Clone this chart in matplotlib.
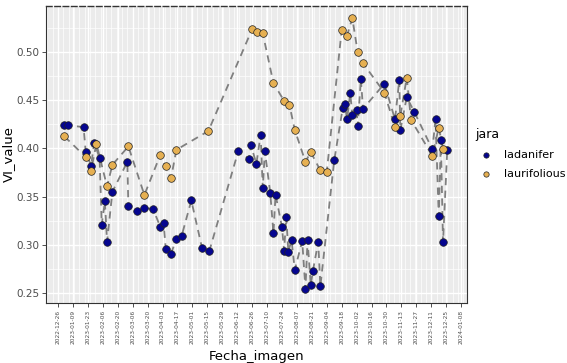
import matplotlib
matplotlib.use("Agg")
import matplotlib.pyplot as plt
import numpy as np
import pandas as pd

# ladanifer series
lad_dates = ['2023-01-01', '2023-01-04', '2023-01-19', '2023-01-21', '2023-01-26', '2023-01-29',
             '2023-02-03', '2023-02-05', '2023-02-08', '2023-02-10', '2023-02-15', '2023-03-01',
             '2023-03-02', '2023-03-10', '2023-03-17', '2023-03-25', '2023-04-01', '2023-04-04',
             '2023-04-06', '2023-04-11', '2023-04-16', '2023-04-21', '2023-04-30', '2023-05-10',
             '2023-05-17', '2023-06-13', '2023-06-23', '2023-06-25', '2023-06-30', '2023-07-04',
             '2023-07-06', '2023-07-08', '2023-07-13', '2023-07-16', '2023-07-18', '2023-07-24',
             '2023-07-26', '2023-07-28', '2023-07-30', '2023-08-02', '2023-08-05', '2023-08-12',
             '2023-08-15', '2023-08-17', '2023-08-20', '2023-08-22', '2023-08-27', '2023-08-29',
             '2023-09-11', '2023-09-19', '2023-09-21', '2023-09-23', '2023-09-26', '2023-09-28',
             '2023-10-02', '2023-10-03', '2023-10-06', '2023-10-08', '2023-10-28', '2023-11-07',
             '2023-11-11', '2023-11-12', '2023-11-18', '2023-11-25', '2023-12-12', '2023-12-15',
             '2023-12-18', '2023-12-20', '2023-12-22', '2023-12-26']
lad_vals = [0.424, 0.424, 0.422, 0.396, 0.382, 0.406,
            0.390, 0.321, 0.345, 0.303, 0.355, 0.386,
            0.340, 0.335, 0.338, 0.3375, 0.3185, 0.323,
            0.296, 0.291, 0.306, 0.3095, 0.346, 0.297,
            0.294, 0.397, 0.389, 0.403, 0.384, 0.414,
            0.359, 0.397, 0.354, 0.312, 0.352, 0.3185,
            0.294, 0.329, 0.293, 0.305, 0.274, 0.304,
            0.254, 0.305, 0.258, 0.273, 0.303, 0.257,
            0.3875, 0.442, 0.446, 0.430, 0.457, 0.435,
            0.440, 0.423, 0.472, 0.441, 0.467, 0.430,
            0.471, 0.419, 0.453, 0.438, 0.399, 0.430,
            0.3295, 0.409, 0.3026, 0.3986]

# laurifolious series
lau_dates = ['2023-01-01', '2023-01-21', '2023-01-26', '2023-01-31', '2023-02-10', '2023-02-15',
             '2023-03-02', '2023-03-17', '2023-04-01', '2023-04-06', '2023-04-11', '2023-04-16',
             '2023-05-16', '2023-06-26', '2023-07-01', '2023-07-06', '2023-07-16', '2023-07-26',
             '2023-07-31', '2023-08-05', '2023-08-15', '2023-08-20', '2023-08-29', '2023-09-04',
             '2023-09-18', '2023-09-23', '2023-09-28', '2023-10-03', '2023-10-08', '2023-10-28',
             '2023-11-07', '2023-11-12', '2023-11-18', '2023-11-22', '2023-12-12', '2023-12-18',
             '2023-12-22']
lau_vals = [0.4124, 0.391, 0.377, 0.4048, 0.3606, 0.383,
            0.402, 0.3517, 0.3934, 0.3813, 0.3692, 0.3985,
            0.418, 0.5235, 0.5204, 0.5194, 0.4676, 0.4493,
            0.4451, 0.4193, 0.3861, 0.3962, 0.3771, 0.3755,
            0.5228, 0.5169, 0.5349, 0.4997, 0.4883, 0.4579,
            0.422, 0.4337, 0.4734, 0.4296, 0.3923, 0.4216,
            0.3996]

species = ['ladanifer', 'laurifolious']
colors = {'ladanifer': '#05058f', 'laurifolious': '#e6b052'}

series = {
    'ladanifer': pd.Series(lad_vals, index=pd.to_datetime(lad_dates)).sort_index(),
    'laurifolious': pd.Series(lau_vals, index=pd.to_datetime(lau_dates)).sort_index(),
}

fig = plt.figure(figsize=(5.67, 3.63), dpi=100)
ax = fig.add_axes([46/567, 1-303/363, (467-46)/567, (303-6)/363])
ax.set_facecolor('#ebebeb')

for sp in species:
    s = series[sp]
    ax.plot(s.index, s.values, color='#7f7f7f', lw=1.3, ls=(0, (4, 3)), zorder=2)
for sp in species:
    s = series[sp]
    ax.scatter(s.index, s.values, s=30, c=colors[sp], edgecolors='#222222',
               linewidths=0.5, zorder=3, label=sp)

# axis scales
ax.set_xlim(pd.Timestamp('2022-12-14 18:00'), pd.Timestamp('2024-01-13 12:00'))
ax.set_ylim(0.2397, 0.5476)

major = pd.date_range('2022-12-26', '2024-01-08', freq='14D')
ax.set_xticks(major)
ax.set_xticklabels([d.strftime('%Y-%m-%d') for d in major], rotation=90,
                   fontsize=4.2, color='#4d4d4d')
ax.set_xticks(pd.date_range('2022-12-16', '2024-01-13', freq='5D'), minor=True)
ax.set_yticks([0.25, 0.30, 0.35, 0.40, 0.45, 0.50])
ax.set_yticklabels(['0.25', '0.30', '0.35', '0.40', '0.45', '0.50'],
                   fontsize=7.5, color='#4d4d4d')
ax.set_yticks([0.275, 0.325, 0.375, 0.425, 0.475, 0.525], minor=True)

ax.grid(which='major', color='white', lw=1.0)
ax.grid(which='minor', color='white', lw=0.5)
ax.set_axisbelow(True)
ax.tick_params(which='major', length=3, width=0.6, color='#333333', pad=2)
ax.tick_params(which='minor', length=0)

for side in ['left', 'bottom', 'right']:
    ax.spines[side].set_color('#333333')
    ax.spines[side].set_linewidth(0.8)
ax.spines['top'].set_color('#333333')
ax.spines['top'].set_linestyle((0, (4, 2)))
ax.spines['top'].set_linewidth(1.0)

ax.set_xlabel('Fecha_imagen', fontsize=9.5, labelpad=4)
ax.set_ylabel('VI_value', fontsize=9.5, labelpad=1)

leg = ax.legend(title='jara', loc='upper left', bbox_to_anchor=(465/567, 1-118/363),
                bbox_transform=fig.transFigure, frameon=False, fontsize=8,
                title_fontsize=9, handletextpad=0.6, labelspacing=0.8,
                markerscale=0.7)
leg._legend_box.align = 'left'

fig.savefig('out.png', dpi=100)
